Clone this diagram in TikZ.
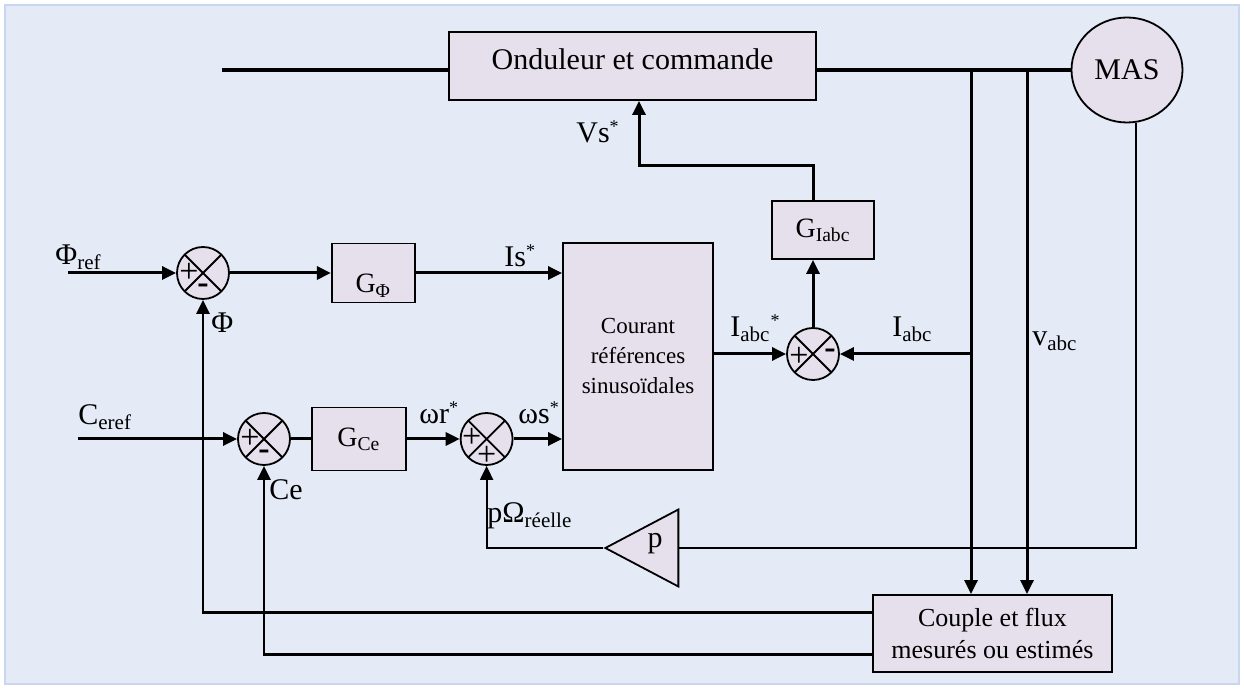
\documentclass[tikz,border=0pt]{standalone}
\usepackage{fontspec}
\setmainfont{Liberation Serif}
\usetikzlibrary{shapes.geometric,arrows.meta,positioning}

\definecolor{fond}{HTML}{E4EBF7}
\definecolor{cadre}{HTML}{C9D7EE}
\definecolor{bloc}{HTML}{E5E0EC}

\newcommand{\etoile}{\textsuperscript{\fontsize{9}{9}\selectfont *}}

\begin{document}
\begin{tikzpicture}[
  x=0.5pt, y=-0.5pt,
  font=\fontsize{15}{18}\selectfont,
  box/.style={rectangle, draw, line width=0.9pt, fill=bloc, inner sep=0pt, align=center},
  sumnode/.style={circle, draw, line width=0.9pt, fill=bloc, minimum size=26pt, inner sep=0pt,
              path picture={\draw[line width=0.9pt]
                (path picture bounding box.north west) -- (path picture bounding box.south east)
                (path picture bounding box.north east) -- (path picture bounding box.south west);}},
  sgn/.style={inner sep=0pt, font=\fontsize{17}{17}\selectfont},
  sgnm/.style={inner sep=0pt, font=\fontsize{17}{17}\selectfont\bfseries},
  lbl/.style={inner sep=0pt, anchor=base west},
  bus/.style={line width=1.6pt},
  arr/.style={-{Triangle[length=7pt, width=6.5pt]}, line width=1.5pt},
  fb/.style={-{Triangle[length=7pt, width=6.5pt]}, line width=1.2pt},
  mes/.style={line width=1pt}
]

% --- Cadre ---
\fill[white] (0,0) rectangle (1244,689);
\draw[cadre, fill=fond, line width=1pt] (5,5) rectangle (1239,684);
\useasboundingbox (0,0) rectangle (1244,689);

% --- Blocs ---
\node[box, minimum width=183.5pt, minimum height=34pt, text height=10pt, text depth=6pt] (ond) at (632.5,66) {Onduleur et commande};
\node[ellipse, draw, line width=0.9pt, fill=bloc, minimum width=55.5pt, minimum height=52.5pt, inner sep=0pt] (mas) at (1127,70) {MAS};
\node[box, minimum width=51pt, minimum height=29pt, font=\fontsize{14}{17}\selectfont] (gi) at (823,230) {G\textsubscript{Iabc}};
\node[box, minimum width=75pt, minimum height=113.5pt, font=\fontsize{11.5}{15}\selectfont] (cour) at (638,356.5) {Courant\\références\\sinusoïdales};
\node[box, minimum width=119.5pt, minimum height=38.5pt, font=\fontsize{13}{16}\selectfont] (cpl) at (992.5,633.5) {Couple et flux\\mesurés ou estimés};

% Flux
\node[sumnode] (s1) at (203,273) {};
\node[box, right=50.5pt of s1, minimum width=41.5pt, minimum height=29.5pt, text height=20pt, text depth=0pt, font=\fontsize{14}{17}\selectfont] (gphi) {G\textsubscript{Φ}};

% Couple
\node[sumnode] (s2) at (264,439) {};
\node[box, right=10pt of s2, minimum width=47pt, minimum height=31.5pt, font=\fontsize{14}{17}\selectfont] (gce) {G\textsubscript{Ce}};
\node[sumnode, right=26.5pt of gce] (s4) {};

% Courant
\node[sumnode] (s3) at (813,354) {};

% Gain p
\node[isosceles triangle, isosceles triangle stretches, shape border rotate=180, draw, fill=bloc, line width=0.9pt,
      minimum width=38.5pt, minimum height=36.5pt, inner sep=0pt, anchor=apex] (pg) at (603,548) {};
\node[inner sep=0pt] (pl) at (655,544) {p};

% Signes
\node[sgn, xshift=-7pt] (s1a) at (s1) {+};
\node[sgnm, yshift=-8pt] (s1b) at (s1) {-};
\node[sgn, xshift=-7pt] (s2a) at (s2) {+};
\node[sgnm, yshift=-8pt] (s2b) at (s2) {-};
\node[sgn, xshift=-7pt, yshift=-1.5pt] (s3a) at (s3) {+};
\node[sgnm, xshift=8.5pt] (s3b) at (s3) {-};
\node[sgn, xshift=-7.5pt, yshift=0.75pt] (s4a) at (s4) {+};
\node[sgn, yshift=-8.5pt] (s4b) at (s4) {+};

% --- Points ---
\coordinate (inv) at (222,70);
\coordinate (ja) at (971,70);
\coordinate (jb) at (1027,70);
\coordinate (phin) at (68,273);
\coordinate (cin) at (78,439);
\coordinate (vsc) at (639,166);

% --- Liaisons ---
\draw[bus] (inv) -- (inv -| ond.west);
\draw[bus] (ond.east |- mas.west) -- (mas.west);
\draw[arr] (ja) -- (ja |- cpl.north);
\draw[arr] (jb) -- (jb |- cpl.north);

\draw[arr] (ja |- s3) -- (s3);
\draw[arr] (s3 -| cour.east) -- (s3);
\draw[arr] (s3) -- (s3 |- gi.south);
\draw[arr] (s3 |- gi.north) |- (vsc) -- (vsc |- ond.south);

\draw[arr] (phin) -- (s1);
\draw[arr] (s1) -- (gphi);
\draw[arr] (gphi.east) -- (gphi.east -| cour.west);

\draw[arr] (cin) -- (s2);
\draw[line width=1.5pt] (s2) -- (gce);
\draw[arr] (gce) -- (s4);
\draw[arr] (s4) -- (s4 -| cour.west);

\draw[fb] ([yshift=10.5pt]cpl.west) -| (s1);
\draw[fb] ([yshift=-10.5pt]cpl.west) -| (s2);
\draw[mes] ([xshift=4.5pt]mas.south) |- (pg.east);
\draw[fb, line width=1pt] (pg.apex) -| (s4);

% --- Etiquettes ---
\node[lbl] (lphr) at (55,265) {Φ\textsubscript{ref}};
\node[lbl] (lis) at (504,267) {Is\etoile};
\node[lbl] (lphi) at (211,333) {Φ};
\node[lbl] (lvs) at (576,143) {Vs\etoile};
\node[lbl] (liar) at (730,337) {I\textsubscript{abc}\etoile};
\node[lbl] (lia) at (892,337) {I\textsubscript{abc}};
\node[lbl] (lva) at (1032,346) {v\textsubscript{abc}};
\node[lbl] (lcr) at (78,425) {C\textsubscript{eref}};
\node[lbl] (lwr) at (419,424) {ωr\etoile};
\node[lbl] (lws) at (518,424) {ωs\etoile};
\node[lbl] (lce) at (269,500) {Ce};
\node[lbl] (lpo) at (487,523) {pΩ\textsubscript{réelle}};

\end{tikzpicture}
\end{document}
